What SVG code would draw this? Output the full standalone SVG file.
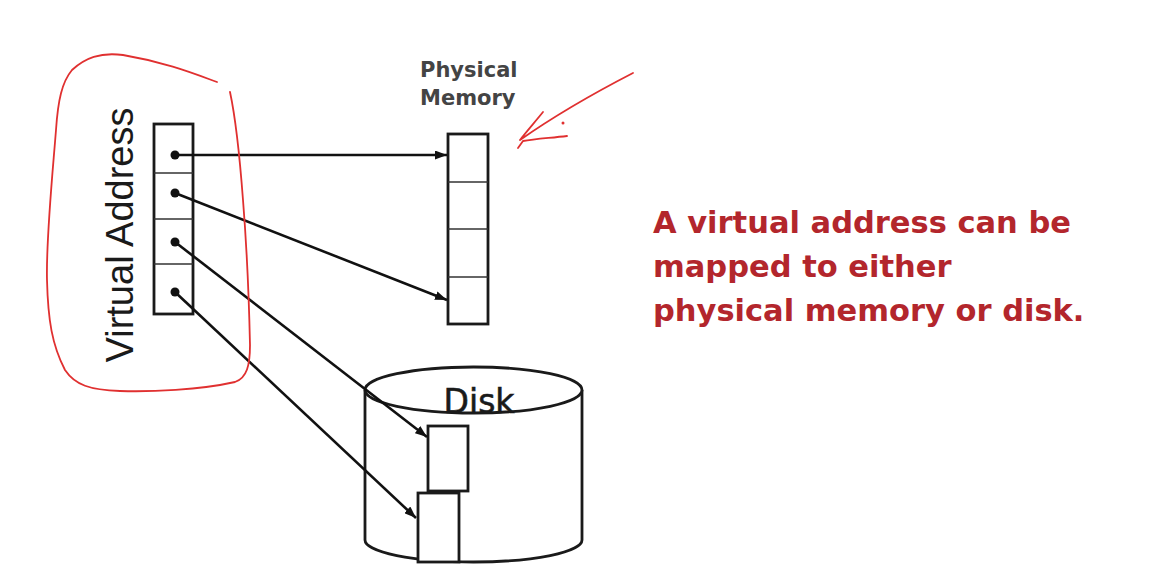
<svg xmlns="http://www.w3.org/2000/svg" width="1168" height="578" viewBox="0 0 1168 578">
<defs>
<style>
.box{fill:#fff;stroke:#1a1a1a;stroke-width:2.8}
.div{stroke:#333;stroke-width:1.6}
.conn{stroke:#111;stroke-width:2.6;fill:none;marker-end:url(#ah)}
.dot{fill:#111}
.ink{fill:none;stroke:#e03030;stroke-width:1.8;stroke-linecap:round;stroke-linejoin:round}
.note{font-family:"DejaVu Sans",sans-serif;font-weight:bold;font-size:30.5px;fill:#b3262c}
</style>
<marker id="ah" viewBox="0 0 12 9" refX="12" refY="4.5" markerWidth="12" markerHeight="9" markerUnits="userSpaceOnUse" orient="auto">
<path d="M0,0 L12,4.5 L0,9 Z" fill="#111"/>
</marker>
</defs>
<rect width="1168" height="578" fill="#fff"/>

<g id="virtual-address">
<text x="133" y="235" transform="rotate(-90 133 235)" text-anchor="middle" font-family="Liberation Sans, sans-serif" font-size="38" fill="#1a1a1a">Virtual Address</text>
<rect class="box" x="154" y="124" width="39" height="190"/>
<line class="div" x1="154" y1="173" x2="193" y2="173"/>
<line class="div" x1="154" y1="219" x2="193" y2="219"/>
<line class="div" x1="154" y1="264" x2="193" y2="264"/>
<circle class="dot" cx="175" cy="155" r="4.5"/>
<circle class="dot" cx="175" cy="193" r="4.5"/>
<circle class="dot" cx="175" cy="242" r="4.5"/>
<circle class="dot" cx="175" cy="292" r="4.5"/>
</g>

<g id="physical-memory">
<text font-family="DejaVu Sans, sans-serif" font-weight="bold" font-size="21" fill="#444"><tspan x="420" y="77">Physical</tspan><tspan x="420" y="105">Memory</tspan></text>
<rect class="box" x="448" y="134" width="40" height="190"/>
<line class="div" x1="448" y1="182" x2="488" y2="182"/>
<line class="div" x1="448" y1="229" x2="488" y2="229"/>
<line class="div" x1="448" y1="277" x2="488" y2="277"/>
</g>

<g id="disk">
<path class="box" d="M365,390 L365,540 A108.5,22 0 0 0 582,540 L582,390"/>
<ellipse class="box" cx="473.5" cy="390" rx="108.5" ry="23"/>
<text x="479" y="413" text-anchor="middle" font-family="DejaVu Sans, sans-serif" font-size="33" fill="#1a1a1a" stroke="#1a1a1a" stroke-width="0.6">Disk</text>
<rect class="box" x="428" y="426" width="40" height="65"/>
<rect class="box" x="418" y="493" width="41" height="69"/>
</g>

<g id="connectors">
<line class="conn" x1="175" y1="155" x2="447" y2="155"/>
<line class="conn" x1="175" y1="193" x2="447" y2="300"/>
<line class="conn" x1="175" y1="242" x2="427" y2="437"/>
<line class="conn" x1="175" y1="292" x2="416" y2="518"/>
</g>

<g id="annotation">
<text class="note"><tspan x="653" y="233">A virtual address can be</tspan><tspan x="653" y="277">mapped to either</tspan><tspan x="653" y="321">physical memory or disk.</tspan></text>
</g>

<g id="ink">
<path class="ink" d="M217,82 C195,74 165,62 123,55 C100,52 85,58 72,70 C62,82 58,100 56,130 C52,180 46,240 47,280 C48,320 52,345 65,370 C75,385 90,390 120,391 C150,392 200,390 235,382 C247,378 250,365 250,345 C249,300 247,250 243,200 C240,160 236,120 230,92"/>
<path class="ink" d="M633,73 C600,90 560,112 520,140 M543,112 C535,122 526,132 520,140 M567,136 C550,138 535,139 523,141 L518,148"/>
<circle cx="563" cy="123" r="1.5" fill="#e03030"/>
</g>
</svg>
